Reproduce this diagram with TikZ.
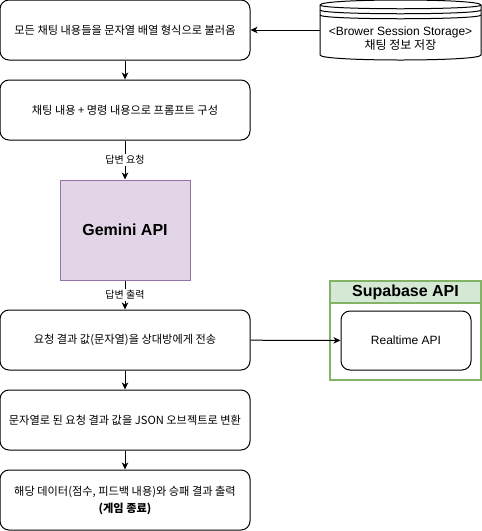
\documentclass[tikz,border=0pt]{standalone}
\usepackage{fontspec}
\setmainfont{Liberation Sans}
\newfontfamily\kr{Noto Sans CJK KR}
\usepackage{tikz}
\usetikzlibrary{
    arrows.meta,
    calc,
    positioning
}

\begin{document}
\begin{tikzpicture}[x=1pt, y=-1pt, line width=1pt,
    >={Stealth[length=7pt, width=6.5pt, inset=2pt]},
    flowbox/.style={draw, rounded corners=9pt, minimum width=250pt, minimum height=60pt,
        align=center, inner sep=0pt, font=\kr\fontsize{11.2}{17}\selectfont},
    apibox/.style={draw=gemstroke, fill=gemfill, minimum width=130pt, minimum height=100pt,
        font=\bfseries\fontsize{16}{18}\selectfont},
    edgelabel/.style={fill=white, inner sep=1pt, font=\kr\fontsize{10}{12}\selectfont}]
    \definecolor{gemfill}{HTML}{E1D5E7}
    \definecolor{gemstroke}{HTML}{9673A6}
    \definecolor{supfill}{HTML}{D5E8D4}
    \definecolor{supstroke}{HTML}{82B366}
    \useasboundingbox (0, 0) rectangle (482, 531);

    % left column
    \node[flowbox] (load) at (125, 30) {모든 채팅 내용들을 문자열 배열 형식으로 불러옴};
    \node[flowbox] (prompt) at (125, 110) {채팅 내용 + 명령 내용으로 프롬프트 구성};
    \node[apibox] (gemini) at (125, 230) {Gemini API};
    \node[flowbox] (send) at (125, 340) {요청 결과 값(문자열)을 상대방에게 전송};
    \node[flowbox] (parse) at (125, 420) {문자열로 된 요청 결과 값을 JSON 오브젝트로 변환};
    \node[flowbox] (result) at (125, 500) {해당 데이터(점수, 피드백 내용)와 승패 결과 출력\\{\bfseries (게임 종료)}};

    % session storage
    \node[minimum width=161pt, minimum height=60pt, inner sep=0pt] (storage) at (400.5, 30) {};
    \draw[fill=white] (320, 5) .. controls (320, -1.667) and (481, -1.667) .. (481, 5)
        -- (481, 55) .. controls (481, 61.667) and (320, 61.667) .. (320, 55) -- cycle;
    \foreach \k in {5, 10, 15}
        \draw (320, \k) .. controls (320, \k+5) and (481, \k+5) .. (481, \k);
    \node[align=center, font=\fontsize{12}{14}\selectfont] (storetext) at (400.5, 39)
        {<Brower Session Storage>\\{\kr 채팅 정보 저장}};

    % supabase
    \node[draw=supstroke, line width=2pt, minimum width=151pt, minimum height=99pt] (supabase) at (405.5, 330.5) {};
    \node[draw=supstroke, fill=supfill, line width=2pt, minimum width=151pt, minimum height=22pt,
        font=\bfseries\fontsize{16}{18}\selectfont] (suphead) at (405.5, 292) {Supabase API};
    \node[draw, rounded corners=9pt, minimum width=130pt, minimum height=59pt,
        font=\fontsize{12}{14}\selectfont] (realtime) at (406, 340.5) {Realtime API};

    \draw
    (storage.west) edge[->] (load.east)
    (load) edge[->] (prompt)
    (prompt) edge[->] node[edgelabel] {답변 요청} (gemini)
    (gemini) edge[->] node[edgelabel] {답변 출력} (send)
    (send) edge[->] (realtime)
    (send) edge[->] (parse)
    (parse) edge[->] (result);
\end{tikzpicture}
\end{document}
